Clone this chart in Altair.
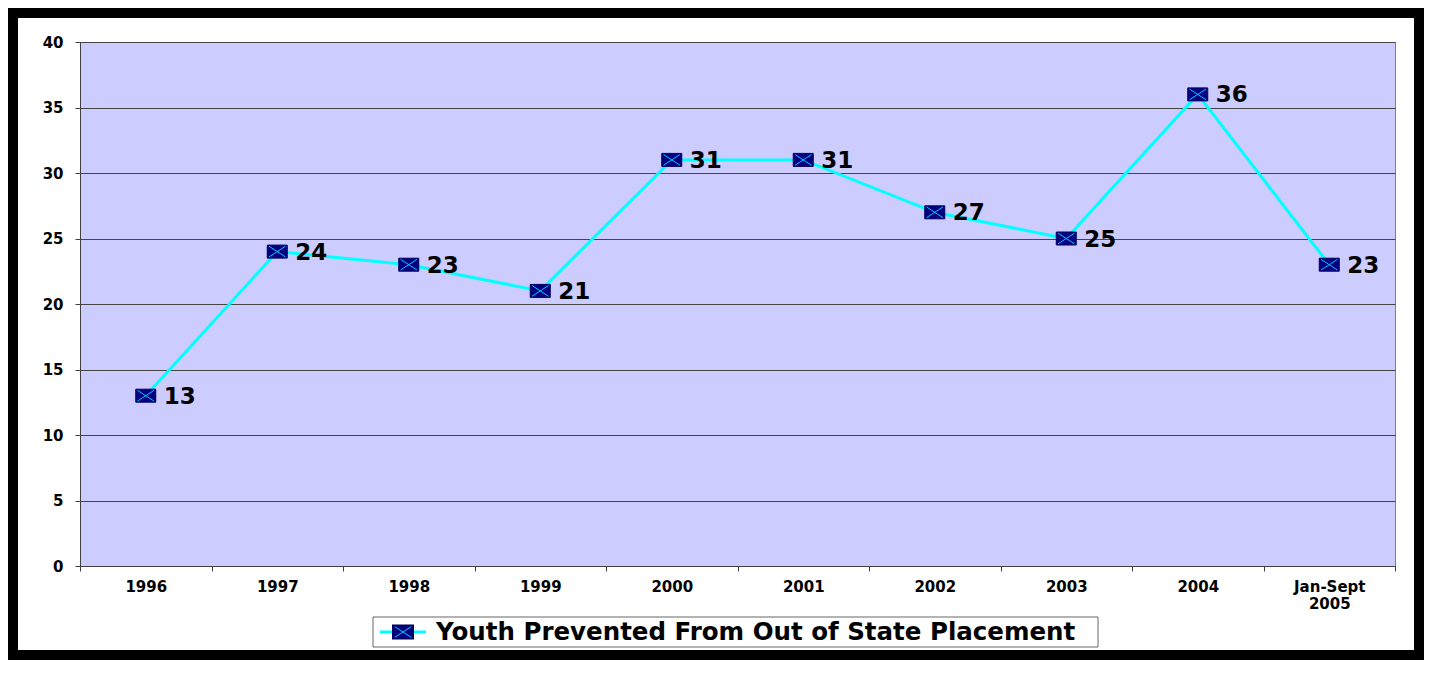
import altair as alt
import pandas as pd

categories = ["1996", "1997", "1998", "1999", "2000", "2001", "2002", "2003", "2004", "Jan-Sept 2005"]
values = [13, 24, 23, 21, 31, 31, 27, 25, 36, 23]
series_name = "Youth Prevented From Out of State Placement"
y_ticks = [0, 5, 10, 15, 20, 25, 30, 35, 40]

df = pd.DataFrame({"period": categories, "value": values})
W, H = 1315, 524
CW, CH = 1416, 652
PL, PT = 72, 34
FONT = "DejaVu Sans"

x_enc = alt.X(
    "period:N",
    sort=categories,
    scale=alt.Scale(type="band", paddingInner=0, paddingOuter=0),
    bandPosition=0.5,
    axis=alt.Axis(
        title=None, labelAngle=0, tickBand="extent", grid=False,
        labelExpr="split(datum.label, ' ')",
        labelFont=FONT, labelFontWeight="bold", labelFontSize=15, labelColor="#000",
        labelPadding=8, tickSize=5, tickColor="#404040", domainColor="#404040",
        labelLineHeight=17, labelBaseline="top",
    ),
)
y_enc = alt.Y(
    "value:Q",
    scale=alt.Scale(domain=[0, 40], nice=False, zero=True),
    axis=alt.Axis(
        title=None, values=y_ticks, grid=True, gridColor="#444", gridOpacity=1, gridWidth=1,
        labelFont=FONT, labelFontWeight="bold", labelFontSize=15, labelColor="#000",
        labelPadding=12, tickSize=5, tickColor="#404040", domainColor="#404040",
    ),
)

base = alt.Chart(df).encode(x=x_enc, y=y_enc)
line = base.mark_line(color="#00FFFF", strokeWidth=3)
rect_path = "M-1,-0.65L1,-0.65L1,0.65L-1,0.65Z"
cross_path = "M-1,-0.65L1,0.65M-1,0.65L1,-0.65"
squares = base.mark_point(shape=rect_path, filled=True, fill="#000080", stroke="#000060",
                          strokeWidth=1, size=400, opacity=1)
crosses = base.mark_point(shape=cross_path, filled=False, stroke="#00CCFF", strokeWidth=1,
                          size=270, opacity=1)
labels = base.mark_text(align="left", baseline="middle", dx=18, dy=1, font=FONT,
                        fontWeight="bold", fontSize=23, color="#000").encode(text="value:Q")

deco = pd.DataFrame({"t": [series_name]})
border = alt.Chart(deco).mark_rect(filled=False, stroke="#000", strokeWidth=10).encode(
    x=alt.value(5 - PL), x2=alt.value(CW - 5 - PL), y=alt.value(5 - PT), y2=alt.value(CH - 5 - PT))
leg_box = alt.Chart(deco).mark_rect(fill="#fff", stroke="#666", strokeWidth=1).encode(
    x=alt.value(293), x2=alt.value(1018), y=alt.value(575), y2=alt.value(605))
leg_line = alt.Chart(deco).mark_rule(color="#00FFFF", strokeWidth=3).encode(
    x=alt.value(300), x2=alt.value(346), y=alt.value(590))
leg_sq = alt.Chart(deco).mark_point(shape=rect_path, filled=True, fill="#000080", stroke="#000060",
                                    size=400, opacity=1).encode(x=alt.value(323), y=alt.value(590))
leg_x = alt.Chart(deco).mark_point(shape=cross_path, filled=False, stroke="#00CCFF", strokeWidth=1,
                                   size=270, opacity=1).encode(x=alt.value(323), y=alt.value(590))
leg_text = alt.Chart(deco).mark_text(align="left", baseline="middle", font=FONT, fontWeight="bold",
                                     fontSize=24.5, color="#000").encode(
    x=alt.value(356), y=alt.value(591), text="t:N")

chart = alt.layer(line, squares, crosses, labels, border, leg_box, leg_line, leg_sq, leg_x, leg_text).properties(
    width=W, height=H,
    autosize=alt.AutoSizeParams(type="none"),
    padding={"left": PL, "top": PT, "right": CW - PL - W, "bottom": CH - PT - H},
    background="#ffffff",
).configure_view(fill="#CCCCFF", stroke="#808080", strokeWidth=1)

chart.save("out.html", embed_options={"renderer": "svg", "actions": False})
